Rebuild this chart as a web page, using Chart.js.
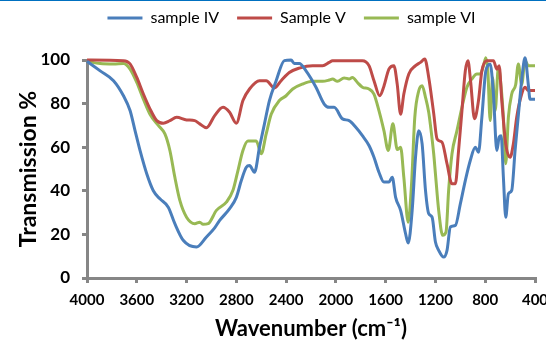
<!DOCTYPE html>
<html>
<head>
<meta charset="utf-8">
<script src="https://cdn.jsdelivr.net/npm/chart.js@4"></script>
<style>
  body { margin: 0; background: #fff; }
  #wrap { position: relative; width: 546px; height: 342px; }
  #topline { position: absolute; left: 0; top: 0; width: 546px; height: 1px; background: #0070c0; }
</style>
</head>
<body>
<div id="wrap">
  <canvas id="chart" width="546" height="342"></canvas>
  <div id="topline"></div>
</div>
<script>
// wavenumber ticks (cm-1)
const xTicks = [4000, 3600, 3200, 2800, 2400, 2000, 1600, 1200, 800, 400];
const yTicks = [0, 20, 40, 60, 80, 100];
const seriesNames = ["sample IV", "Sample V", "sample VI"];

// sample IV
const ivX = [4000, 3894, 3787, 3707, 3654, 3614, 3574, 3520, 3467, 3414, 3347, 3294, 3227, 3120, 3040, 2974, 2934, 2854, 2800, 2760, 2720, 2694, 2654, 2614, 2574, 2534, 2480, 2414, 2360, 2334, 2294, 2240, 2160, 2094, 2054, 2014, 1947, 1894, 1840, 1787, 1734, 1694, 1654, 1614, 1574, 1547, 1520, 1480, 1440, 1419, 1387, 1360, 1334, 1307, 1280, 1254, 1227, 1200, 1174, 1134, 1107, 1080, 1040, 1000, 960, 920, 880, 854, 827, 795, 760, 734, 707, 688, 672, 654, 635, 614, 587, 560, 528, 499, 480, 454, 440, 400];
const ivY = [99.4, 95, 90.5, 83.6, 76.8, 67.6, 58.5, 47.8, 40, 36.3, 32.5, 24.9, 17.3, 14.2, 18.8, 23, 26.4, 31.8, 37, 44.7, 50.8, 51.6, 48.5, 60, 70.7, 81.4, 90.5, 99.7, 100, 98.4, 98.4, 95, 87.5, 79.8, 78.3, 78.3, 73, 72.2, 69.1, 65.3, 60.8, 55.4, 48.5, 44, 44, 46.2, 37, 31, 20.3, 16, 31, 55.4, 67.6, 61.5, 40.2, 29.5, 27.9, 16.5, 12.7, 9.6, 12.7, 23.4, 24.1, 34, 44.7, 53.9, 60, 57.7, 73.7, 95, 98, 84.4, 58.5, 64.6, 65.3, 46.2, 27.9, 38.6, 40.2, 58.5, 78.3, 95, 101, 88.8, 82, 82];

// Sample V
const vX = [4000, 3707, 3654, 3600, 3547, 3494, 3440, 3387, 3334, 3280, 3200, 3134, 3094, 3040, 2974, 2907, 2854, 2800, 2747, 2694, 2614, 2560, 2494, 2440, 2374, 2294, 2187, 2107, 2054, 2027, 1787, 1734, 1694, 1648, 1614, 1574, 1534, 1507, 1480, 1454, 1414, 1360, 1320, 1286, 1254, 1214, 1187, 1147, 1107, 1067, 1040, 1014, 987, 960, 939, 918, 886, 854, 827, 787, 734, 707, 688, 667, 635, 600, 574, 547, 507, 480, 454, 400];
const vY = [100, 99.7, 98.2, 92, 84.4, 77.6, 72.2, 71, 72.2, 73.7, 72.5, 72.2, 70.7, 68.9, 74.5, 78.3, 76, 71, 81.4, 86.7, 90.5, 90.5, 87.2, 90.5, 94.3, 96.3, 97.4, 97.4, 98.9, 99.7, 99.7, 97.4, 90.5, 83.6, 88, 95.8, 97.4, 88.8, 75.1, 84.4, 93.6, 97.4, 98.9, 100.5, 92, 75.5, 63.8, 62.3, 52.4, 43.2, 43.2, 58.5, 76.8, 95, 99.7, 90.5, 73, 81.4, 95, 99.7, 99.7, 95.8, 97.4, 81.4, 61.5, 55.4, 61.5, 73.7, 84.4, 87.5, 86, 86];

// sample VI
const viX = [4000, 3894, 3787, 3707, 3654, 3600, 3547, 3494, 3427, 3374, 3334, 3294, 3254, 3200, 3134, 3094, 3067, 3027, 2960, 2880, 2827, 2787, 2747, 2707, 2640, 2600, 2560, 2520, 2454, 2400, 2347, 2267, 2187, 2107, 2054, 2027, 1987, 1934, 1894, 1867, 1827, 1787, 1734, 1694, 1654, 1614, 1579, 1542, 1507, 1480, 1454, 1419, 1392, 1366, 1334, 1307, 1280, 1254, 1240, 1214, 1200, 1174, 1142, 1115, 1094, 1067, 1027, 987, 947, 907, 867, 840, 814, 795, 779, 760, 741, 720, 694, 672, 654, 635, 614, 587, 555, 534, 507, 480, 454, 400];
const viY = [99.4, 98.4, 98.2, 98.4, 95.8, 89.7, 82, 75.1, 70, 66.1, 58.5, 46.2, 35.6, 27.9, 24.9, 25.6, 24.6, 24.9, 31, 34.8, 40.2, 49.3, 58.5, 62.8, 62.8, 57, 66.1, 75.1, 81.4, 83.6, 86.7, 89, 90.2, 90.2, 90.8, 91.3, 90.2, 91.8, 91.3, 92, 89.7, 87.5, 86.7, 84.4, 76.8, 67.6, 58.5, 70.7, 58.9, 60, 46.2, 25.6, 43.2, 73.7, 85.9, 88.2, 82.9, 76, 70, 57, 47.8, 31, 19.6, 21.1, 40.2, 57, 67.6, 78.3, 87.5, 91.3, 93.6, 93.6, 97.4, 101, 95, 72.2, 92, 76.8, 96.6, 87.5, 73.7, 52.4, 73.7, 84.4, 88.8, 98.2, 88.8, 99.7, 97.4, 97.4];

const colors = ["#4a7ebb", "#be4b48", "#98b954"];
const FONT = "Lato, 'Open Sans', sans-serif";
const AXIS = "#868686";

function toPoints(xs, ys) {
  return xs.map((x, i) => ({ x: x, y: ys[i] }));
}

// Excel puts the legend a bit right of centre and close to the top
const legendShift = {
  id: "legendShift",
  afterLayout(chart) {
    chart.legend.left += 24;
    chart.legend.right += 24;
    chart.legend.top -= 24;
    chart.legend.bottom -= 24;
  }
};

const datasets = [toPoints(ivX, ivY), toPoints(vX, vY), toPoints(viX, viY)].map((pts, i) => ({
  label: seriesNames[i],
  data: pts,
  borderColor: colors[i],
  backgroundColor: colors[i],
  borderWidth: 3,
  pointRadius: 0,
  cubicInterpolationMode: "monotone",
  clip: 8
}));

new Chart(document.getElementById("chart"), {
  type: "line",
  data: { datasets: datasets },
  plugins: [legendShift],
  options: {
    responsive: false,
    animation: false,
    layout: { padding: { left: 0, right: 11, top: 16, bottom: 0 } },
    plugins: {
      legend: {
        position: "top",
        labels: {
          usePointStyle: true,
          pointStyle: "line",
          pointStyleWidth: 35,
          padding: 18,
          color: "#000",
          font: { family: FONT, size: 16 }
        }
      },
      tooltip: { enabled: false }
    },
    scales: {
      x: {
        type: "linear",
        reverse: true,
        min: 400,
        max: 4000,
        afterBuildTicks: s => { s.ticks = xTicks.map(v => ({ value: v })); },
        afterFit: s => { s.paddingRight = 0; s.paddingLeft = 0; s.height = 64; },
        ticks: {
          color: "#000",
          padding: 8,
          callback: v => String(v),
          font: { family: FONT, size: 15, weight: "bold" }
        },
        grid: { drawOnChartArea: false, drawTicks: true, tickLength: 5, color: AXIS, lineWidth: 3 },
        border: { color: AXIS, width: 3 },
        title: {
          display: true,
          text: "Wavenumber (cm⁻¹)",
          color: "#000",
          padding: { top: 4, bottom: 0 },
          font: { family: FONT, size: 22, weight: "bold" }
        }
      },
      y: {
        min: 0,
        max: 100,
        afterBuildTicks: s => { s.ticks = yTicks.map(v => ({ value: v })); },
        afterFit: s => { s.width = 87; },
        ticks: { color: "#000", padding: 12, font: { family: FONT, size: 17, weight: "bold" } },
        grid: { drawOnChartArea: false, drawTicks: true, tickLength: 5, color: AXIS, lineWidth: 3 },
        border: { color: AXIS, width: 3 },
        title: {
          display: true,
          text: "Transmission %",
          color: "#000",
          font: { family: FONT, size: 23, weight: "bold", lineHeight: 2.15 }
        }
      }
    }
  }
});
</script>
</body>
</html>
